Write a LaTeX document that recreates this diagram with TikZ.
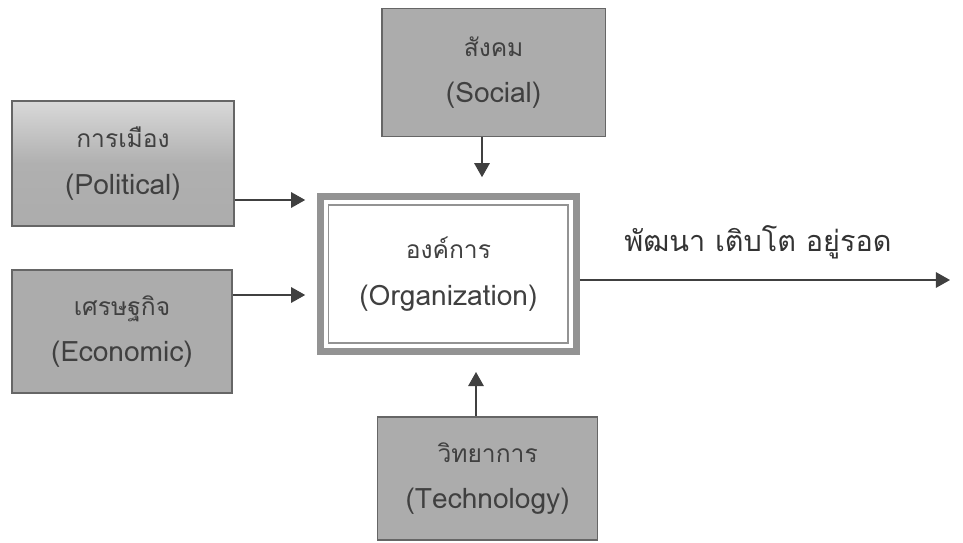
\documentclass[tikz,border=0pt]{standalone}
\usepackage{fontspec}
\setmainfont[Script=Thai]{Loma}
\usetikzlibrary{arrows.meta,positioning,calc}
\newcommand{\enfont}{\fontsize{20}{33}\selectfont}

\begin{document}
\begin{tikzpicture}[
    % Define styles
    factor/.style={rectangle, draw=black!60, line width=1pt, fill=gray!65, text=black!75, minimum width=5.5cm, minimum height=3.08cm, align=center, font=\fontsize{17.5}{33}\selectfont},
    org/.style={rectangle, draw=gray!85, line width=5pt, fill=white, text=black!75, minimum width=6.4cm, minimum height=3.87cm, align=center, font=\fontsize{17.5}{33}\selectfont},
    arrow/.style={-{Triangle[length=10pt,width=11pt]}, line width=1.1pt, black!75}
]

\useasboundingbox (0,0) rectangle (24.075,-13.575);

% Organization
\node[org] (organization) at (11.21,-6.85) {องค์การ\\{\enfont (Organization)}};
\draw[gray!85, line width=1.2pt] ($(organization.south west)+(0.29,0.29)$) rectangle ($(organization.north east)-(0.29,0.29)$);

% Environment factors
\node[factor, shade, top color=gray!30, bottom color=gray!65, middle color=gray!62, minimum width=5.55cm, minimum height=3.13cm] (political) at (3.075,-4.09) {การเมือง\\{\enfont (Political)}};
\node[factor] (economic) at (3.05,-8.29) {เศรษฐกิจ\\{\enfont (Economic)}};
\node[factor, minimum width=5.58cm, minimum height=3.2cm] (social) at (12.34,-1.81) {สังคม\\{\enfont (Social)}};
\node[factor] (technology) at (12.19,-11.96) {วิทยาการ\\{\enfont (Technology)}};

% Arrow ends
\coordinate (polin) at (7.63,-5.0);
\coordinate (ecoin) at (7.63,-7.375);
\coordinate (socin) at (12.05,-4.43);
\coordinate (tecin) at (11.9,-9.3);
\coordinate (outcome) at (23.75,-7.0);

% Connections
\draw[arrow] (political.east |- polin) -- (polin);
\draw[arrow] (economic.east |- ecoin) -- (ecoin);
\draw[arrow] (social.south -| socin) -- (socin);
\draw[arrow] (technology.north -| tecin) -- (tecin);
\draw[arrow] (organization.east |- outcome) -- (outcome);

% Result label
\node[text=black!80, font=\fontsize{20.5}{24}\selectfont] (result) at (18.95,-6.05) {พัฒนา เติบโต อยู่รอด};

\end{tikzpicture}
\end{document}
